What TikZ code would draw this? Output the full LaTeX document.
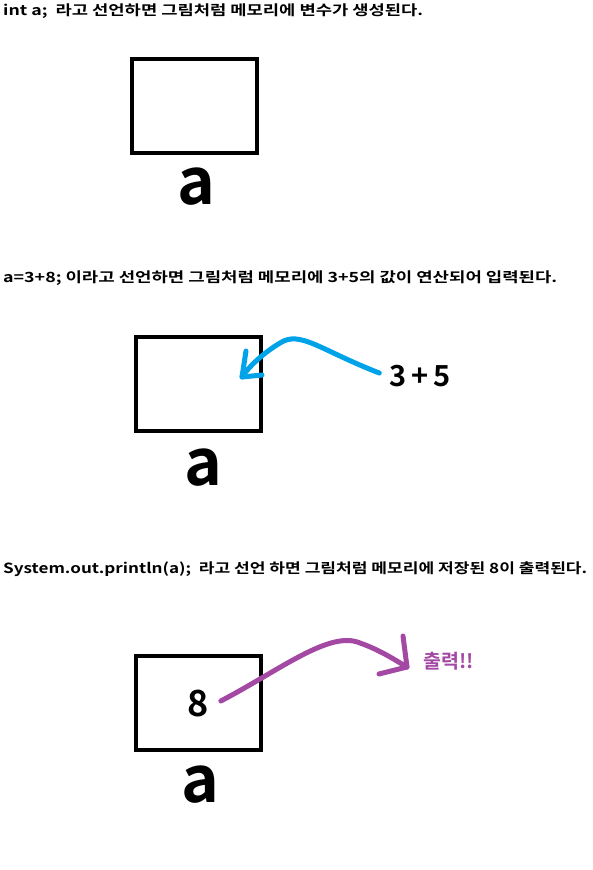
\documentclass[tikz,border=0pt]{standalone}
\usepackage{fontspec}
\setmainfont{Noto Sans CJK KR}[BoldFont={* Bold}]
\newfontfamily\krbold{Noto Sans CJK KR Bold}
\definecolor{pblue}{RGB}{0,162,232}
\definecolor{ppurple}{RGB}{163,73,164}
\newcommand{\capw}[2]{\resizebox{#1}{\height}{#2}}
\begin{document}
\begin{tikzpicture}[x=1pt,y=-1pt,
  caption/.style={anchor=west,inner sep=0pt,font=\krbold\fontsize{14}{16}\selectfont},
  membox/.style={draw,line width=4pt,minimum width=125pt,minimum height=94pt,inner sep=0pt},
  varname/.style={inner sep=0pt,font=\krbold\fontsize{64}{70}\selectfont},
  blueline/.style={pblue,line width=5pt,line cap=round,line join=round},
  purpline/.style={ppurple,line width=5pt,line cap=round,line join=round}]
\useasboundingbox (0,0) rectangle (593,870);
% section 1
\node[caption] (t1) at (3,11) {\capw{420pt}{int a;\ \ 라고 선언하면 그림처럼 메모리에 변수가 생성된다.}};
\node[membox] (b1) at (194.5,106) {};
\node[varname] (a1) at (196,187) {a};
% section 2
\node[caption] (t2) at (3,278) {\capw{554pt}{a=3+8; 이라고 선언하면 그림처럼 메모리에 3+5의 값이 연산되어 입력된다.}};
\node[membox] (b2) at (198.5,383.5) {};
\node[varname] (a2) at (203,468) {a};
\node[inner sep=0pt,font=\krbold\fontsize{29}{32}\selectfont] (s) at (420,376) {3\,+\,5};
\coordinate (tip2) at (242,377);
\draw[blueline] (s.west) ++(-10,-3) coordinate (st2)
  .. controls (320,350) and (300,330) .. (280,343)
  .. controls (265,352) and (250,365) .. (tip2);
\draw[blueline] (246,351) -- (tip2) -- (262,375);
% section 3
\node[caption] (t3) at (3,569) {\capw{584pt}{System.out.println(a);\ \ 라고 선언 하면 그림처럼 메모리에 저장된 8이 출력된다.}};
\node[membox] (b3) at (198.5,702.5) {};
\node[inner sep=0pt,font=\krbold\fontsize{36}{40}\selectfont] (n8) at (198,704) {8};
\node[varname] (a3) at (200,785) {a};
\node[inner sep=0pt,text=ppurple,font=\krbold\fontsize{19.5}{22}\selectfont] (out) at (449,661) {출력!!};
\coordinate (tip3) at (407,667);
\draw[purpline] (n8.east) ++(12,-3) coordinate (st3)
  .. controls (280,670) and (330,630) .. (360,643)
  .. controls (380,650) and (395,660) .. (tip3);
\draw[purpline] (403,636) -- (tip3) -- (379,674);
\end{tikzpicture}
\end{document}
